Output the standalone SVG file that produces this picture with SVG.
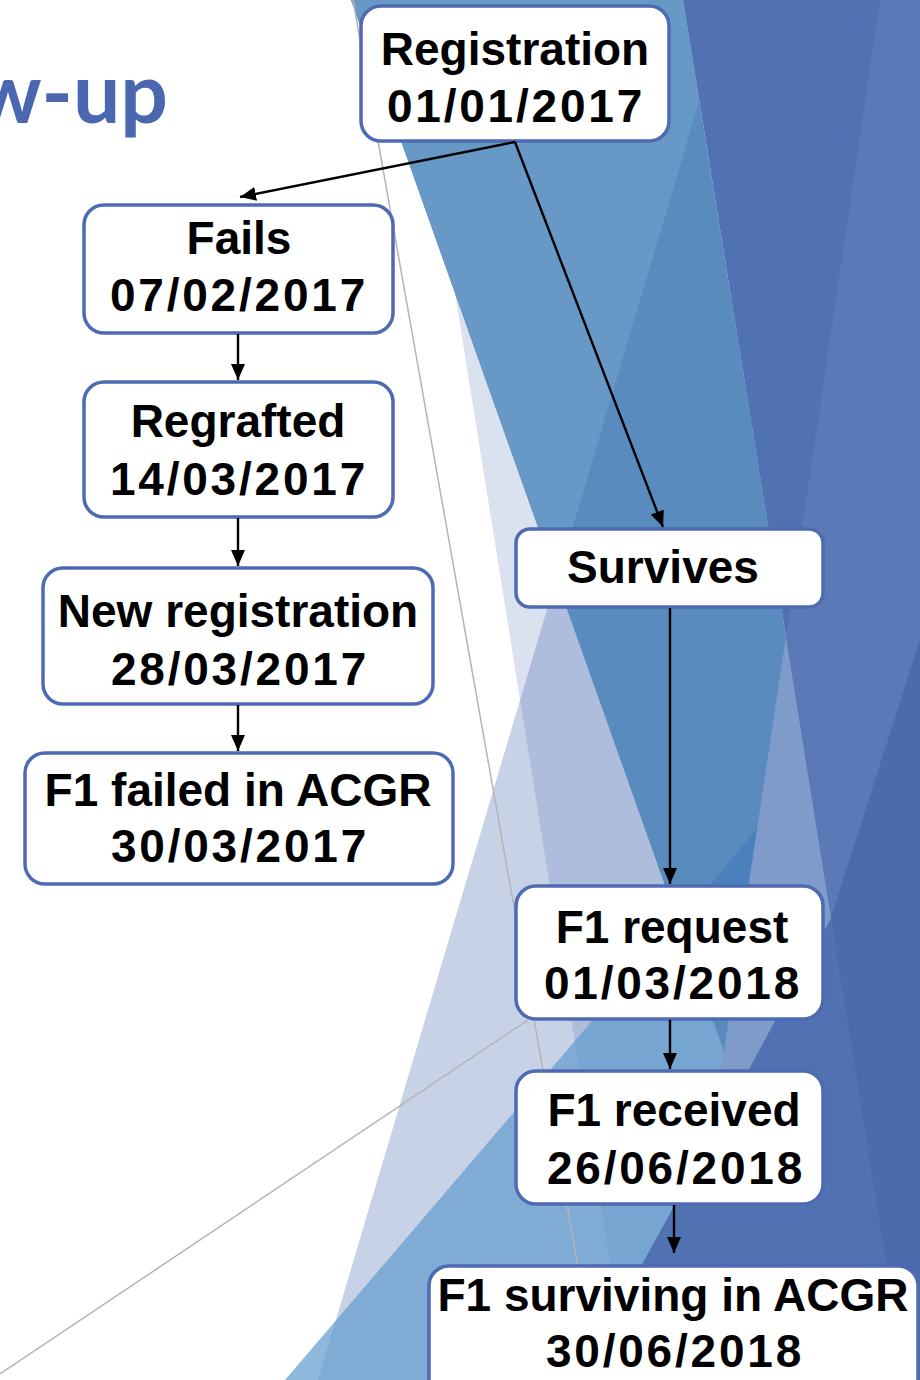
<svg xmlns="http://www.w3.org/2000/svg" width="920" height="1380" viewBox="0 0 920 1380">
<defs>
<style>
.box{fill:#fff;stroke:#4d6ab3;stroke-width:3.5}
.t{font-family:"Liberation Sans",Arial,sans-serif;font-weight:bold;font-size:46px;fill:#000;text-anchor:middle}
.d{letter-spacing:2.8px}
.c{stroke:#000;stroke-width:2.4;fill:none;marker-end:url(#ah)}
.gl{stroke:#b4b4b4;stroke-width:1.5;fill:none}
</style>
<marker id="ah" viewBox="0 0 16 14" refX="16" refY="7" markerWidth="16" markerHeight="14" orient="auto" markerUnits="userSpaceOnUse"><path d="M0,0 L16,7 L0,14 z" fill="#000"/></marker>
</defs>
<rect width="920" height="1380" fill="#fff"/>
<g id="background">
<polygon points="408,0 920,0 920,1380 629,1380" fill="rgb(74,106,176)" fill-opacity="0.204"/>
<polygon points="318,1380 639,300 920,300 920,1380" fill="rgb(74,106,176)" fill-opacity="0.30"/>
<polygon points="285,1380 757,828 711,1139 578,1380" fill="#619bce" fill-opacity="0.71"/>
<polygon points="683,0 920,0 920,1380 578,1380 711,1139 786,637" fill="#5072b3"/>
<polygon points="351,0 683,0 786,637 724,1052" fill="#5a8bbf"/>
<polygon points="351,0 683,0 699,102 557,580" fill="#6898c6"/>
<polygon points="757,828 706,890 747,890" fill="#4a80bb"/>
<polygon points="880,0 920,0 920,640 831,918 786,637" fill="#5b78b7"/>
<polygon points="920,640 920,1380 905,1380 831,918" fill="#4d6aad"/>
<polygon points="786,637 831,918 711,1139" fill="#7f9bca"/>
<line class="gl" x1="353" y1="0" x2="598" y2="1380"/>
<line class="gl" x1="0" y1="1374" x2="528" y2="1020" stroke="#c8c8c8"/>
</g>
<text x="168" y="123" text-anchor="end" font-family="Lato,'Liberation Sans',sans-serif" font-weight="bold" font-size="84" fill="#4a67b0">w-up</text>
<g id="n-registration"><rect class="box" x="361" y="6" width="308" height="135" rx="20"/><text class="t" x="515" y="65">Registration</text><text class="t d" x="516" y="122">01/01/2017</text></g>
<g id="n-fails"><rect class="box" x="84" y="205" width="309" height="128" rx="20"/><text class="t" x="239" y="254">Fails</text><text class="t d" x="239" y="311">07/02/2017</text></g>
<g id="n-regrafted"><rect class="box" x="84" y="382" width="309" height="135" rx="20"/><text class="t" x="238" y="437">Regrafted</text><text class="t d" x="239" y="495">14/03/2017</text></g>
<g id="n-newreg"><rect class="box" x="43" y="568" width="390" height="136" rx="20"/><text class="t" x="238" y="627">New registration</text><text class="t d" x="240" y="685">28/03/2017</text></g>
<g id="n-f1failed"><rect class="box" x="25" y="753" width="428" height="131" rx="20"/><text class="t" x="238" y="806">F1 failed in ACGR</text><text class="t d" x="240" y="862">30/03/2017</text></g>
<g id="n-survives"><rect class="box" x="516" y="529" width="307" height="78" rx="14"/><text class="t" x="663" y="583">Survives</text></g>
<g id="n-f1request"><rect class="box" x="516" y="886" width="307" height="133" rx="20"/><text class="t" x="672" y="943">F1 request</text><text class="t d" x="673" y="999">01/03/2018</text></g>
<g id="n-f1received"><rect class="box" x="516" y="1071" width="307" height="133" rx="20"/><text class="t" x="674" y="1126">F1 received</text><text class="t d" x="676" y="1184">26/06/2018</text></g>
<g id="n-f1surviving"><rect class="box" x="429" y="1266" width="489" height="140" rx="20"/><text class="t" x="673" y="1311">F1 surviving in ACGR</text><text class="t d" x="675" y="1367">30/06/2018</text></g>
<g id="connectors">
<path class="c" d="M515,142 L240,197"/>
<path class="c" d="M515,142 L663,527"/>
<path class="c" d="M238,334 L238,380"/>
<path class="c" d="M238,518 L238,566"/>
<path class="c" d="M238,705 L238,751"/>
<path class="c" d="M670,608 L670,884"/>
<path class="c" d="M670,1020 L670,1069"/>
<path class="c" d="M674,1205 L674,1253"/>
</g>
</svg>
